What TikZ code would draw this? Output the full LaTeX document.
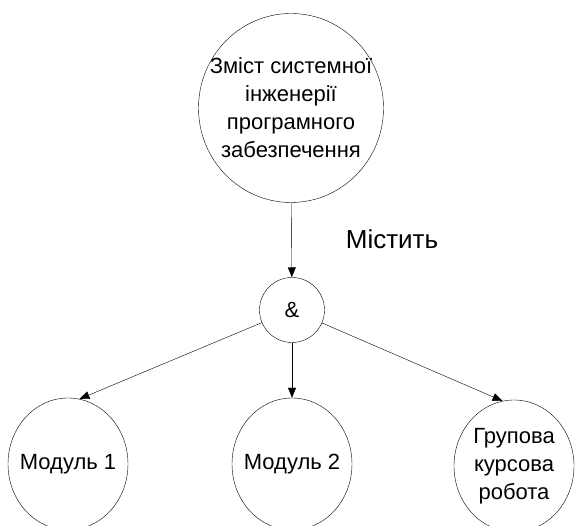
\documentclass[tikz,border=0pt]{standalone}
\usepackage{fontspec}
\setmainfont{Liberation Sans}
\usetikzlibrary{
    arrows.meta,
    shapes.geometric,
    positioning
}

\tikzset{
    topic/.style={draw, ellipse, thin, align=center, inner xsep=-16pt, inner ysep=0pt,
        font=\fontsize{22}{28}\selectfont},
    part/.style={topic, minimum width=120pt, minimum height=132pt}
}

\begin{document}
\begin{tikzpicture}[x=1pt, y=1pt, >={Triangle[length=10pt, width=8pt]}]
                        \useasboundingbox (0, 0) rectangle (577, 526);
                        \node[topic, minimum width=185pt, minimum height=189pt] (zm) at (291, 418)
                            {Зміст системної\\інженерії\\програмного\\забезпечення};
                        \node[topic, minimum width=65pt, minimum height=65pt] (amp) at (292, 216) {\&};
                        \node[part] (m1) at (68, 62) {Модуль 1};
                        \node[part] (m2) at (292, 62) {Модуль 2};
                        \node[part] (grp) at (514, 60) {Групова\\курсова\\робота};
                        \node[font=\fontsize{26}{30}\selectfont] (lbl) at (392, 287) {Містить};

                        \draw[thin]
                        (zm) edge[->] (amp)
                        (amp) edge[->] (m1.80)
                        (amp) edge[->] (m2)
                        (amp) edge[->] (grp.100);
                    \end{tikzpicture}
\end{document}
